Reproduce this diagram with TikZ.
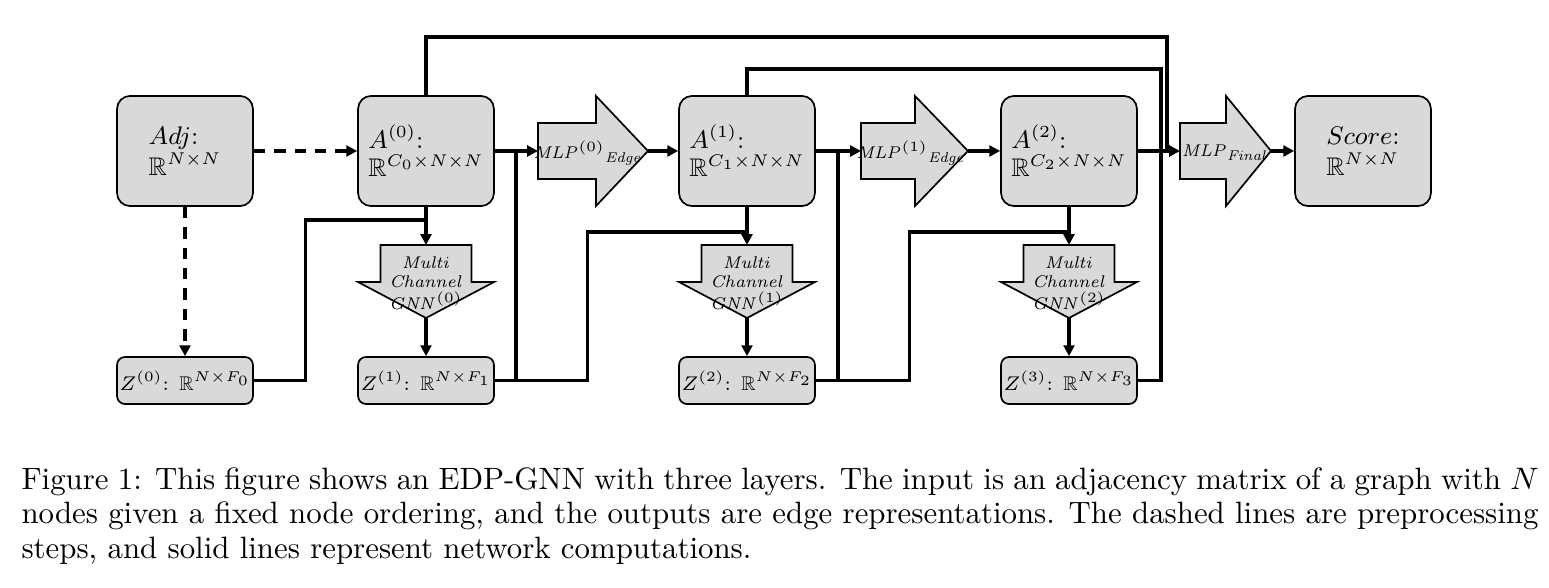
\documentclass[tikz,border=0pt]{standalone}
\usepackage{amsmath,amssymb}
\usetikzlibrary{arrows.meta}
\definecolor{boxgray}{RGB}{217,217,217}
\begin{document}
\begin{tikzpicture}[x=0.3532pt, y=-0.3532pt, line width=1.1pt,
  tip/.style={-{Triangle[length=3.8pt,width=3.8pt]}},
  prep/.style={tip, dash pattern=on 4pt off 3.2pt},
  bigbox/.style={draw, line width=0.6pt, fill=boxgray, rounded corners=4.6pt,
    minimum width=48pt, minimum height=38.9pt, inner sep=0pt, align=left,
    font=\fontsize{9}{10}\selectfont},
  zbox/.style={draw, line width=0.6pt, fill=boxgray, rounded corners=2.8pt,
    minimum width=48pt, minimum height=16.6pt, inner sep=0pt,
    font=\fontsize{7}{9}\selectfont},
  shapefill/.style={draw, line width=0.6pt, fill=boxgray},
  mlptext/.style={inner sep=0pt, font=\fontsize{6}{8}\selectfont},
  gnntext/.style={inner sep=0pt, align=center, font=\fontsize{6}{6.2}\selectfont}]
%
\useasboundingbox (0,0) rectangle (1549,588);
%
\node[bigbox] (adj) at (185,151) {$Adj$:\\[1pt]$\mathbb{R}^{N\times N}$};
\node[bigbox] (a0) at (426,151) {$A^{(0)}$:\\$\mathbb{R}^{C_0\times N\times N}$};
\node[bigbox] (a1) at (747,151) {$A^{(1)}$:\\$\mathbb{R}^{C_1\times N\times N}$};
\node[bigbox] (a2) at (1069,151) {$A^{(2)}$:\\$\mathbb{R}^{C_2\times N\times N}$};
\node[bigbox] (score) at (1363,151) {$Score$:\\[1pt]$\mathbb{R}^{N\times N}$};
%
\foreach \i/\x in {0/185,1/426,2/747,3/1069}
  \node[zbox] (z\i) at (\x,380.5) {$Z^{(\i)}$: $\mathbb{R}^{N\times F_{\i}}$};
%
\foreach \n/\t/\h/\p in {mlp0/538/596/648,mlp1/861/915/968,mlpf/1180/1226/1271}{
  \draw[shapefill] (\t,123) -- (\h,123) -- (\h,96) -- (\p,151)
    -- (\h,206) -- (\h,179) -- (\t,179) -- cycle;
  \coordinate (\n-in) at (\t,151);
  \coordinate (\n-out) at (\p,151);
}
\node[mlptext] (mlp0-label) at (588,153) {$\mathit{MLP}^{(0)}{}_{\mathit{Edge}}$};
\node[mlptext] (mlp1-label) at (911,153) {$\mathit{MLP}^{(1)}{}_{\mathit{Edge}}$};
\node[mlptext] (mlpf-label) at (1225,153) {$\mathit{MLP}_{\mathit{Final}}$};
%
\foreach \n/\x in {0/426,1/747,2/1069}{
  \draw[shapefill] (\x-45.5,245) -- (\x+45.5,245) -- (\x+45.5,282) -- (\x+68,282)
    -- (\x,318) -- (\x-68,282) -- (\x-45.5,282) -- cycle;
  \coordinate (gnn\n-in) at (\x,245);
  \coordinate (gnn\n-out) at (\x,318);
  \node[gnntext] (gnn\n-label) at (\x,283)
    {$\mathit{Multi}$\\[0.6pt]$\mathit{Channel}$\\[0.6pt]$\mathit{GNN}^{(\n)}$};
}
%
\coordinate (j0) at (426,220);
\coordinate (j1) at (747,232);
\coordinate (j2) at (1069,232);
\coordinate (k0) at (516,151);
\coordinate (k1) at (838,151);
\coordinate (kf) at (1167,151);
\coordinate (top0) at (1167,37);
\coordinate (top1) at (1161,69);
%
\draw[prep] (adj.east) -- (a0.west);
\draw[prep] (adj.south) -- (z0.north);
%
\draw[tip] (a0.east) -- (mlp0-in);
\draw[tip] (mlp0-out) -- (a1.west);
\draw[tip] (a1.east) -- (mlp1-in);
\draw[tip] (mlp1-out) -- (a2.west);
\draw[tip] (a2.east) -- (mlpf-in);
\draw[tip] (mlpf-out) -- (score.west);
\foreach \i/\j in {0/1,1/2,2/3}{
  \draw[tip] (a\i.south) -- (gnn\i-in);
  \draw[tip] (gnn\i-out) -- (z\j.north);
}
%
\draw (z0.east) -- ++(52,0) |- (j0);
\draw (z1.east) -| (k0);
\draw (z1.east) -- ++(93,0) |- (j1);
\draw (z2.east) -| (k1);
\draw (z2.east) -- ++(94,0) |- (j2);
\draw (z3.east) -| (top1) -| (a1.north);
\draw (a0.north) |- (top0) -- (kf);
%
\node[anchor=north west, inner sep=0pt, text width=535.8pt, align=justify,
  font=\fontsize{10.9}{12.2}\selectfont] (caption) at (20,466)
  {Figure 1: This figure shows an EDP-GNN with three layers. The input is an
  adjacency matrix of a graph with $N$\linebreak nodes given a fixed node ordering,
  and the outputs are edge representations. The dashed lines are
  preprocessing\linebreak steps, and solid lines represent network computations.};
%
\end{tikzpicture}
\end{document}
